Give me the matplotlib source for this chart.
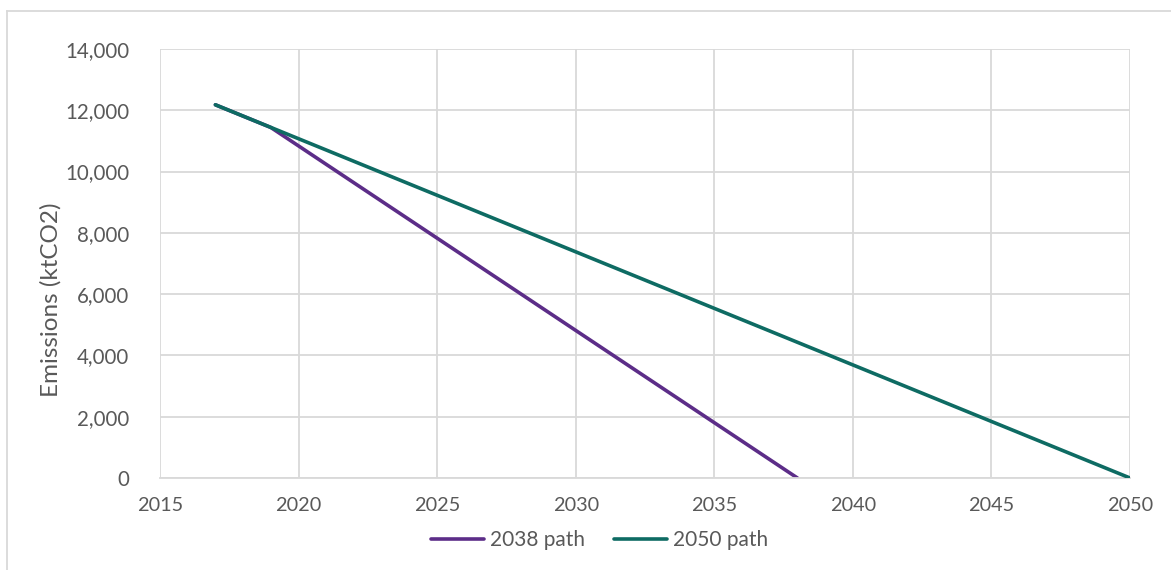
import matplotlib
matplotlib.use("Agg")
import matplotlib.pyplot as plt
from matplotlib.lines import Line2D
from matplotlib.ticker import FuncFormatter, MultipleLocator

# Emission pathways (ktCO2)
years_2038 = [2017, 2019, 2038]
emissions_2038 = [12180, 11440, 0]
years_2050 = [2017, 2050]
emissions_2050 = [12180, 0]
series_labels = ["2038 path", "2050 path"]

PURPLE = "#5c2d88"
TEAL = "#0e6b63"
GRID = "#d9d9d9"
TEXT = "#595959"

plt.rcParams["font.family"] = ["Lato", "DejaVu Sans"]

fig = plt.figure(figsize=(11.71, 5.70), dpi=100)
ax = fig.add_axes([0.1366, 0.1614, 0.8284, 0.7526])

ax.plot(years_2050, emissions_2050, color=TEAL, lw=2.6, solid_capstyle="round",
        label=series_labels[1], zorder=3)
ax.plot(years_2038, emissions_2038, color=PURPLE, lw=2.6, solid_capstyle="round",
        label=series_labels[0], zorder=2)

ax.set_xlim(2015, 2050)
ax.set_ylim(0, 14000)
ax.xaxis.set_major_locator(MultipleLocator(5))
ax.yaxis.set_major_locator(MultipleLocator(2000))
ax.yaxis.set_major_formatter(FuncFormatter(lambda v, p: f"{int(v):,}"))

ax.grid(True, color=GRID, lw=1.3)
ax.set_axisbelow(True)
for side in ["top", "right", "left"]:
    ax.spines[side].set_visible(False)
ax.spines["bottom"].set_color(GRID)
ax.spines["bottom"].set_linewidth(1.3)
ax.tick_params(length=0, colors=TEXT)
ax.tick_params(axis="x", labelsize=14.3, pad=14)
ax.tick_params(axis="y", labelsize=14.8, pad=22)

ax.set_ylabel("Emissions (ktCO2)", fontsize=17.5, color=TEXT)
ax.yaxis.set_label_coords(-0.101, 0.415)

handles = [Line2D([], [], color=PURPLE, lw=2.6, solid_capstyle="round"),
           Line2D([], [], color=TEAL, lw=2.6, solid_capstyle="round")]
fig.legend(handles, series_labels, loc="center", bbox_to_anchor=(0.512, 0.0526),
           ncol=2, frameon=False, fontsize=15, labelcolor=TEXT,
           handlelength=2.55, handletextpad=0.29, columnspacing=1.4)

# outer chart frame
fig.add_artist(Line2D([7 / 1171, 1.0], [1 - 11 / 570, 1 - 11 / 570],
                      transform=fig.transFigure, color=GRID, lw=1.3))
fig.add_artist(Line2D([7 / 1171, 7 / 1171], [0.0, 1 - 11 / 570],
                      transform=fig.transFigure, color=GRID, lw=1.3))

fig.savefig("out.png", dpi=100, facecolor="white")
